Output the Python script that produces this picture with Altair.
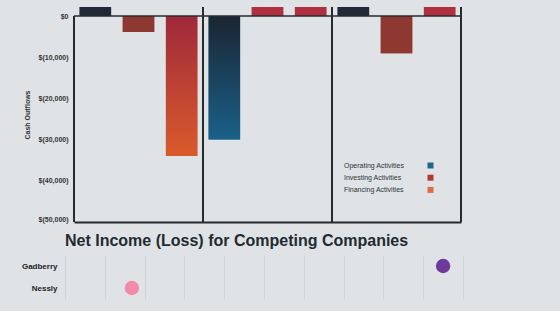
import altair as alt
import pandas as pd

# ---------------- data ----------------
companies = ["Company A", "Company B", "Company C"]
activities = ["Operating Activities", "Investing Activities", "Financing Activities"]
operating = [3000, -30000, 3000]
investing = [-3900, 3000, -9000]
financing = [-34000, 3000, 3000]
y_ticks = [0, -10000, -20000, -30000, -40000, -50000]

dot_companies = ["Gadberry", "Nessly"]
net_income = [45000, -33200]
net_ticks = [-50000, -40000, -30000, -20000, -10000, 0, 10000, 20000, 30000, 40000, 50000]

legend_colors = ["#1b6a8c", "#b03a32", "#e06c44"]
positive_colors = ["#222936", "#b03040", "#b03040"]
dot_colors = ["#6e3a9c", "#f28aa8"]

rows = []
for i, c in enumerate(companies):
    rows.append({"Company": c, "Activity": activities[0], "Amount": operating[i]})
    rows.append({"Company": c, "Activity": activities[1], "Amount": investing[i]})
    rows.append({"Company": c, "Activity": activities[2], "Amount": financing[i]})
df = pd.DataFrame(rows)

LEFT_GAP = 9          # top panels start a little right of the lower chart
W, H = 396, 215
LINE = "#262b30"
BG = "#dfe3e5"

x_scale = alt.Scale(domain=companies, paddingInner=0, paddingOuter=0, range=[LEFT_GAP, W])
x_axis = alt.Axis(labels=False, ticks=False, title=None, domainColor=LINE, domainWidth=2, grid=False)
y_scale = alt.Scale(domain=[-50000, 2200], nice=False)
y_axis = alt.Axis(
    values=y_ticks, offset=-LEFT_GAP,
    labelExpr="datum.value == 0 ? '$0' : '$(' + format(abs(datum.value), ',') + ')'",
    title="Cash Outflows", titleFontSize=7, titleFont="Liberation Sans", titleFontWeight="bold",
    titleColor="#333", titlePadding=8,
    labelFont="Liberation Sans", labelFontSize=7, labelFontWeight="bold", labelColor="#333",
    labelPadding=6, labelFlush=True,
    grid=False, ticks=False, domain=False,
)


def X(band=0.5):
    return alt.X("Company:N", scale=x_scale, axis=x_axis, bandPosition=band)


Y = alt.Y("Amount:Q", scale=y_scale, axis=y_axis, stack=None)
XO = alt.XOffset("Activity:N", scale=alt.Scale(domain=activities, paddingInner=0.27, paddingOuter=0.13))

base = alt.Chart(df)

bars = base.mark_bar(clip=True).encode(
    x=X(), xOffset=XO, y=Y,
    color=alt.Color("Activity:N", scale=alt.Scale(domain=activities, range=legend_colors),
                    legend=alt.Legend(title=None, orient="none", legendX=272, legendY=155,
                                      symbolType="M29,-1h2v2h-2Z", symbolSize=36, symbolStrokeWidth=0,
                                      labelFont="Liberation Sans", labelFontSize=7, labelColor="#2a323a",
                                      labelOffset=0, rowPadding=4.2, padding=0)),
)

grad_op = alt.LinearGradient(gradient="linear", x1=0, x2=0, y1=0, y2=1,
                             stops=[alt.GradientStop(color="#1b2533", offset=0),
                                    alt.GradientStop(color="#1a6088", offset=1)])
grad_fin = alt.LinearGradient(gradient="linear", x1=0, x2=0, y1=0, y2=1,
                              stops=[alt.GradientStop(color="#a0283a", offset=0),
                                     alt.GradientStop(color="#d95b2c", offset=1)])

op_neg = base.transform_filter(
    (alt.datum.Activity == activities[0]) & (alt.datum.Amount < 0)
).mark_bar(color=grad_op).encode(x=X(), xOffset=XO, y=Y)
inv_neg = base.transform_filter(
    (alt.datum.Activity == activities[1]) & (alt.datum.Amount < 0)
).mark_bar(color="#8d3830").encode(x=X(), xOffset=XO, y=Y)
fin_neg = base.transform_filter(
    (alt.datum.Activity == activities[2]) & (alt.datum.Amount < 0)
).mark_bar(color=grad_fin).encode(x=X(), xOffset=XO, y=Y)
pos = base.transform_filter(alt.datum.Amount > 0).mark_bar(clip=True).encode(
    x=X(), xOffset=XO, y=Y,
    fill=alt.Fill("Activity:N", scale=alt.Scale(domain=activities, range=positive_colors), legend=None),
)

zero_line = alt.Chart(pd.DataFrame({"Company": companies[:1], "End": companies[-1:], "Amount": [0]})).mark_rule(
    color=LINE, strokeWidth=1.5).encode(y=Y, x=X(0), x2=alt.X2("End", bandPosition=1))
sep = alt.Chart(pd.DataFrame({"Company": companies[1:]})).mark_rule(color=LINE, strokeWidth=2).encode(
    x=X(0), y=alt.value(0), y2=alt.value(H))
right_edge = alt.Chart(pd.DataFrame({"Company": companies[-1:]})).mark_rule(color=LINE, strokeWidth=2).encode(
    x=X(1), y=alt.value(0), y2=alt.value(H))
left_edge = alt.Chart(pd.DataFrame({"Company": companies[:1], "Amount": [0]})).mark_rule(color=LINE, strokeWidth=2).encode(
    x=X(0), y=Y, y2=alt.value(H))

top = alt.layer(bars, op_neg, inv_neg, fin_neg, pos, zero_line, sep, right_edge, left_edge).properties(
    width=W, height=H)

ddf = pd.DataFrame({"Company": dot_companies, "NetIncome": net_income})
bottom = alt.Chart(ddf).mark_circle(size=210, opacity=1).encode(
    x=alt.X("NetIncome:Q", scale=alt.Scale(domain=[-50000, 50000], nice=False),
            axis=alt.Axis(values=net_ticks, labels=False, ticks=False, domain=False, title=None,
                          gridColor="#cdd3d6", gridWidth=1)),
    y=alt.Y("Company:N", sort=dot_companies, scale=alt.Scale(paddingInner=0, paddingOuter=0),
            axis=alt.Axis(title=None, ticks=False, domain=False, labelFont="Liberation Sans",
                          labelFontSize=8, labelFontWeight="bold", labelColor="#222", labelPadding=8)),
    color=alt.Color("Company:N", scale=alt.Scale(domain=dot_companies, range=dot_colors), legend=None),
).properties(
    width=398, height=44,
    title=alt.TitleParams("Net Income (Loss) for Competing Companies", anchor="start", frame="group",
                          font="Liberation Sans", fontSize=16, fontWeight="bold", color="#1f2b31",
                          offset=6),
)

chart = alt.vconcat(top, bottom, spacing=10).resolve_scale(
    x="independent", y="independent", color="independent"
).properties(
    background=BG,
    padding={"left": 21, "top": 6, "right": 97, "bottom": 13},
).configure_view(stroke=None)

chart.save("out.html", embed_options={"renderer": "svg", "actions": False})
